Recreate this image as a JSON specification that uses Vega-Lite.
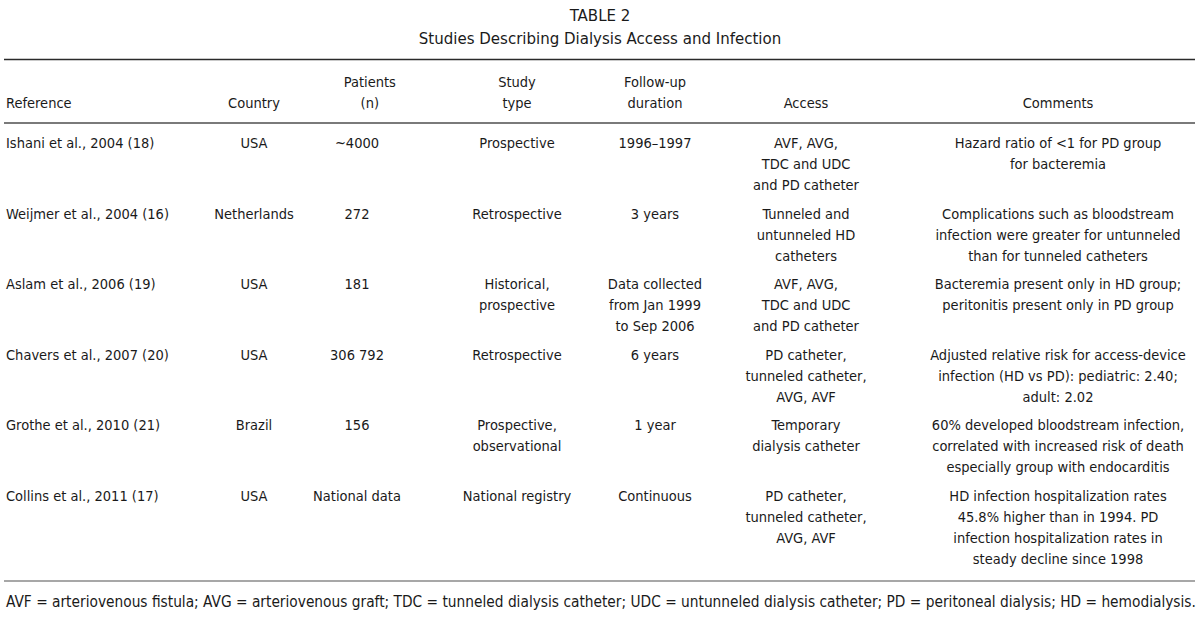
{
  "$schema": "https://vega.github.io/schema/vega-lite/v6.json",
  "width": 1200,
  "height": 620,
  "padding": 0,
  "autosize": {"type": "fit", "contains": "padding"},
  "background": "#ffffff",
  "config": {"view": {"stroke": null}, "text": {"font": "DejaVu Sans Condensed", "fontSize": 14.5, "color": "#1a1a1a", "baseline": "alphabetic", "lineBreak": "\n", "lineHeight": 21}},
  "datasets": {
    "titles": [
      {"col": 3.5, "row": -3, "text": "TABLE 2"},
      {"col": 3.5, "row": -2, "text": "Studies Describing Dialysis Access and Infection"}
    ],
    "header": [
      {"col": 0, "row": 0.25, "text": "Reference"},
      {"col": 1, "row": 0.25, "text": "Country"},
      {"col": 2.08, "row": 0, "text": "Patients\n(n)"},
      {"col": 3, "row": 0, "text": "Study\ntype"},
      {"col": 4, "row": 0, "text": "Follow-up\nduration"},
      {"col": 5, "row": 0.25, "text": "Access"},
      {"col": 6, "row": 0.25, "text": "Comments"}
    ],
    "body": [
      {"col": 0, "row": 1, "text": "Ishani et al., 2004 (18)"},
      {"col": 1, "row": 1, "text": "USA"},
      {"col": 2, "row": 1, "text": "~4000"},
      {"col": 3, "row": 1, "text": "Prospective"},
      {"col": 4, "row": 1, "text": "1996–1997"},
      {"col": 5, "row": 1, "text": "AVF, AVG,\nTDC and UDC\nand PD catheter"},
      {"col": 6, "row": 1, "text": "Hazard ratio of <1 for PD group\nfor bacteremia"},
      {"col": 0, "row": 2, "text": "Weijmer et al., 2004 (16)"},
      {"col": 1, "row": 2, "text": "Netherlands"},
      {"col": 2, "row": 2, "text": "272"},
      {"col": 3, "row": 2, "text": "Retrospective"},
      {"col": 4, "row": 2, "text": "3 years"},
      {"col": 5, "row": 2, "text": "Tunneled and\nuntunneled HD\ncatheters"},
      {"col": 6, "row": 2, "text": "Complications such as bloodstream\ninfection were greater for untunneled\nthan for tunneled catheters"},
      {"col": 0, "row": 3, "text": "Aslam et al., 2006 (19)"},
      {"col": 1, "row": 3, "text": "USA"},
      {"col": 2, "row": 3, "text": "181"},
      {"col": 3, "row": 3, "text": "Historical,\nprospective"},
      {"col": 4, "row": 3, "text": "Data collected\nfrom Jan 1999\nto Sep 2006"},
      {"col": 5, "row": 3, "text": "AVF, AVG,\nTDC and UDC\nand PD catheter"},
      {"col": 6, "row": 3, "text": "Bacteremia present only in HD group;\nperitonitis present only in PD group"},
      {"col": 0, "row": 4, "text": "Chavers et al., 2007 (20)"},
      {"col": 1, "row": 4, "text": "USA"},
      {"col": 2, "row": 4, "text": "306 792"},
      {"col": 3, "row": 4, "text": "Retrospective"},
      {"col": 4, "row": 4, "text": "6 years"},
      {"col": 5, "row": 4, "text": "PD catheter,\ntunneled catheter,\nAVG, AVF"},
      {"col": 6, "row": 4, "text": "Adjusted relative risk for access-device\ninfection (HD vs PD): pediatric: 2.40;\nadult: 2.02"},
      {"col": 0, "row": 5, "text": "Grothe et al., 2010 (21)"},
      {"col": 1, "row": 5, "text": "Brazil"},
      {"col": 2, "row": 5, "text": "156"},
      {"col": 3, "row": 5, "text": "Prospective,\nobservational"},
      {"col": 4, "row": 5, "text": "1 year"},
      {"col": 5, "row": 5, "text": "Temporary\ndialysis catheter"},
      {"col": 6, "row": 5, "text": "60% developed bloodstream infection,\ncorrelated with increased risk of death\nespecially group with endocarditis"},
      {"col": 0, "row": 6, "text": "Collins et al., 2011 (17)"},
      {"col": 1, "row": 6, "text": "USA"},
      {"col": 2, "row": 6, "text": "National data"},
      {"col": 3, "row": 6, "text": "National registry"},
      {"col": 4, "row": 6, "text": "Continuous"},
      {"col": 5, "row": 6, "text": "PD catheter,\ntunneled catheter,\nAVG, AVF"},
      {"col": 6, "row": 6, "text": "HD infection hospitalization rates\n45.8% higher than in 1994. PD\ninfection hospitalization rates in\nsteady decline since 1998"}
    ],
    "footnote": [
      {"col": 0, "row": 7, "text": "AVF = arteriovenous fistula; AVG = arteriovenous graft; TDC = tunneled dialysis catheter; UDC = untunneled dialysis catheter; PD = peritoneal dialysis; HD = hemodialysis."}
    ],
    "rules": [
      {"row": -1, "kind": "top"},
      {"row": 0.5, "kind": "mid"},
      {"row": 6.5, "kind": "bottom"}
    ]
  },
  "layer": [
    {
      "data": {"name": "rules"},
      "transform": [{"filter": "datum.kind == 'top'"}],
      "mark": {"type": "rule", "color": "#2a2a2a", "strokeWidth": 1.4},
      "encoding": {
        "x": {"datum": -1, "type": "quantitative", "axis": null,
          "scale": {"domain": [-1, 0, 1, 2, 3, 3.5, 4, 5, 6, 7], "range": [4, 6, 254, 357, 517, 600, 655, 806, 1058, 1195], "nice": false, "zero": false}},
        "x2": {"datum": 7},
        "y": {"field": "row", "type": "quantitative", "axis": null,
          "scale": {"domain": [-3, -2, -1, 0, 0.25, 0.5, 1, 2, 3, 4, 5, 6, 6.5, 7], "range": [21, 44, 59.5, 87, 108, 123, 148, 218.5, 289, 359.5, 430, 500.5, 581, 607], "nice": false, "zero": false}}
      }
    },
    {
      "data": {"name": "rules"},
      "transform": [{"filter": "datum.kind == 'mid'"}],
      "mark": {"type": "rule", "color": "#7a7a7a", "strokeWidth": 2},
      "encoding": {"x": {"datum": -1, "type": "quantitative", "axis": null}, "x2": {"datum": 7}, "y": {"field": "row", "type": "quantitative", "axis": null}}
    },
    {
      "data": {"name": "rules"},
      "transform": [{"filter": "datum.kind == 'bottom'"}],
      "mark": {"type": "rule", "color": "#8a8a8a", "strokeWidth": 1.5},
      "encoding": {"x": {"datum": -1, "type": "quantitative", "axis": null}, "x2": {"datum": 7}, "y": {"field": "row", "type": "quantitative", "axis": null}}
    },
    {
      "data": {"name": "titles"},
      "mark": {"type": "text", "fontSize": 16.7, "align": "center"},
      "encoding": {
        "x": {"field": "col", "type": "quantitative", "axis": null},
        "y": {"field": "row", "type": "quantitative", "axis": null},
        "text": {"field": "text"}
      }
    },
    {
      "data": {"name": "header"},
      "transform": [{"filter": "datum.col == 0"}],
      "mark": {"type": "text", "align": "left"},
      "encoding": {"x": {"field": "col", "type": "quantitative", "axis": null}, "y": {"field": "row", "type": "quantitative", "axis": null}, "text": {"field": "text"}}
    },
    {
      "data": {"name": "header"},
      "transform": [{"filter": "datum.col > 0"}],
      "mark": {"type": "text", "align": "center"},
      "encoding": {"x": {"field": "col", "type": "quantitative", "axis": null}, "y": {"field": "row", "type": "quantitative", "axis": null}, "text": {"field": "text"}}
    },
    {
      "data": {"name": "body"},
      "transform": [{"filter": "datum.col == 0"}],
      "mark": {"type": "text", "align": "left"},
      "encoding": {"x": {"field": "col", "type": "quantitative", "axis": null}, "y": {"field": "row", "type": "quantitative", "axis": null}, "text": {"field": "text"}}
    },
    {
      "data": {"name": "body"},
      "transform": [{"filter": "datum.col > 0"}],
      "mark": {"type": "text", "align": "center"},
      "encoding": {"x": {"field": "col", "type": "quantitative", "axis": null}, "y": {"field": "row", "type": "quantitative", "axis": null}, "text": {"field": "text"}}
    },
    {
      "data": {"name": "footnote"},
      "mark": {"type": "text", "align": "left", "fontSize": 15.3},
      "encoding": {"x": {"field": "col", "type": "quantitative", "axis": null}, "y": {"field": "row", "type": "quantitative", "axis": null}, "text": {"field": "text"}}
    }
  ]
}
